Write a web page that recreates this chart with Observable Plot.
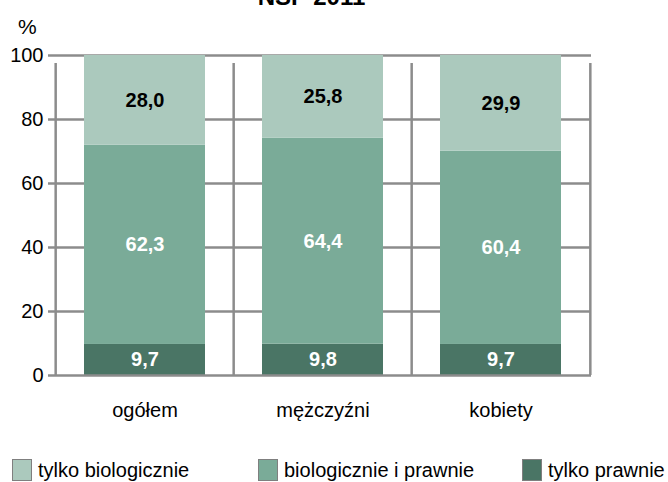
<!DOCTYPE html>
<html><head><meta charset="utf-8">
<script src="https://cdn.jsdelivr.net/npm/d3@7"></script>
<script src="https://cdn.jsdelivr.net/npm/@observablehq/plot@0.6"></script>
<style>
body{margin:0;background:#fff;font-family:"Liberation Sans",Arial,sans-serif;color:#000;}
#wrap{position:relative;width:668px;height:482px;overflow:hidden;}
#chart{position:absolute;left:0;top:0;}
#title{position:absolute;top:-15px;left:0;width:623px;text-align:center;font-weight:bold;font-size:24px;line-height:24px;white-space:nowrap;}
#pct{position:absolute;left:18px;top:16px;font-size:21px;line-height:21px;}
.li{position:absolute;top:458px;height:24px;display:flex;align-items:center;font-size:20px;white-space:nowrap;}
.sw{width:20px;height:22px;border:1px solid #7f7f7f;box-sizing:border-box;margin-right:6px;}
</style></head>
<body><div id="wrap"><div id="chart"></div><div id="title"></div><div id="pct"></div></div>
<script>
const title = "NSP 2011";
const yUnit = "%";
const categories = ["ogółem", "mężczyźni", "kobiety"];
const series = ["tylko prawnie", "biologicznie i prawnie", "tylko biologicznie"];
const tylkoPrawnie = [9.7, 9.8, 9.7];
const biologicznieIPrawnie = [62.3, 64.4, 60.4];
const tylkoBiologicznie = [28.0, 25.8, 29.9];
const yTicks = [0, 20, 40, 60, 80, 100];
const colors = ["#4a7565", "#7aab98", "#abc9bd"];
const legendOrder = ["tylko biologicznie", "biologicznie i prawnie", "tylko prawnie"];

const seriesValues = [tylkoPrawnie, biologicznieIPrawnie, tylkoBiologicznie];
const table = [];
categories.forEach((c, i) => {
  let base = 0;
  series.forEach((s, j) => {
    const v = seriesValues[j][i];
    table.push({cat: c, series: s, value: v, mid: base + v / 2});
    base += v;
  });
});
const fmt = v => v.toFixed(1).replace(".", ",");

const W = 668, H = 440, mL = 55, mR = 77, mT = 55, mB = 65;
const step = (W - mL - mR) / categories.length;
const grid = "#8c8c8c", gw = 2.5;

const chart = Plot.plot({
  width: W, height: H, marginTop: mT, marginBottom: mB, marginLeft: mL, marginRight: mR,
  x: {domain: categories, paddingInner: 0.32, paddingOuter: 0.16, label: null, axis: null},
  y: {domain: [0, 100], label: null, axis: null},
  color: {domain: series, range: colors},
  style: {fontFamily: "Liberation Sans, Arial, sans-serif", fontSize: "20px", color: "#000", background: "#fff", overflow: "visible"},
  marks: [
    Plot.ruleY(yTicks.filter(d => d > 0), {y: d => d, stroke: grid, strokeWidth: gw}),
    Plot.barY(table, {x: "cat", y: "value", fill: "series"}),
    Plot.ruleX(categories, {x: d => d, dx: -step / 2, y1: 0, y2: 100, insetBottom: -8, stroke: grid, strokeWidth: gw}),
    Plot.ruleX(categories.slice(-1), {x: d => d, dx: step / 2, y1: 0, y2: 100, insetBottom: -8, stroke: grid, strokeWidth: gw}),
    Plot.ruleY([0], {y: d => d, stroke: grid, strokeWidth: gw}),
    Plot.axisY({ticks: yTicks, tickSize: 7, tickPadding: 5, stroke: grid, strokeWidth: gw, fill: "#000", fontSize: 20, label: null}),
    Plot.axisX({tickSize: 0, tickPadding: 27, fill: "#000", fontSize: 20, label: null}),
    Plot.text(table.filter(d => d.series === "tylko biologicznie"), {x: "cat", y: "mid", text: d => fmt(d.value),
      fill: "#000", fontWeight: "bold", fontSize: 20}),
    Plot.text(table.filter(d => d.series !== "tylko biologicznie"), {x: "cat", y: "mid", text: d => fmt(d.value),
      fill: "#fff", fontWeight: "bold", fontSize: 20})
  ]
});
document.getElementById("chart").appendChild(chart);
document.getElementById("title").textContent = title;
document.getElementById("pct").textContent = yUnit;

const legendLeft = [12, 258, 522];
const wrap = document.getElementById("wrap");
legendOrder.forEach((s, i) => {
  const item = document.createElement("div");
  item.className = "li";
  item.style.left = legendLeft[i] + "px";
  const sw = document.createElement("div");
  sw.className = "sw";
  sw.style.background = colors[series.indexOf(s)];
  const t = document.createElement("span");
  t.textContent = s;
  item.appendChild(sw); item.appendChild(t);
  wrap.appendChild(item);
});
</script></body></html>
